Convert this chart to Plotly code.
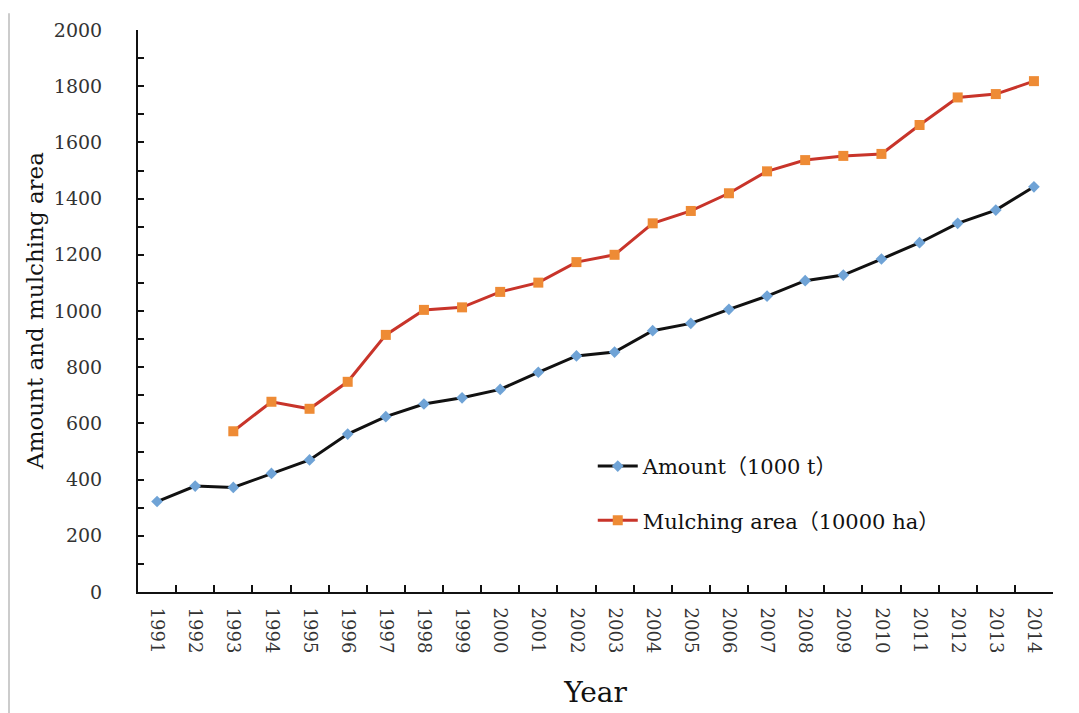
import plotly.graph_objects as go

years = [str(y) for y in range(1991, 2015)]
amount = [322, 377, 372, 422, 470, 562, 624, 669, 691, 721, 782, 840, 854, 930, 956,
          1006, 1053, 1108, 1128, 1185, 1243, 1312, 1359, 1442]
mulching_years = [str(y) for y in range(1993, 2015)]
mulching = [572, 677, 652, 748, 915, 1004, 1013, 1068, 1101, 1174, 1200, 1312, 1356,
            1419, 1497, 1537, 1552, 1559, 1662, 1760, 1772, 1818]

serif = "DejaVu Serif, Noto Sans CJK SC, serif"

fig = go.Figure()
fig.add_trace(go.Scatter(
    x=years, y=amount, mode="lines+markers", name="Amount（1000 t）",
    line=dict(color="#111111", width=3),
    marker=dict(symbol="diamond", size=9, color="#6FA3D6"),
    legendgroup="a",
))
fig.add_trace(go.Scatter(
    x=mulching_years, y=mulching, mode="lines+markers", name="Mulching area（10000 ha）",
    line=dict(color="#C8342A", width=3),
    marker=dict(symbol="square", size=10, color="#EE8B35"),
    legendgroup="b",
))

fig.update_layout(
    width=1079, height=713,
    margin=dict(l=130, r=34, t=22, b=129),
    paper_bgcolor="white", plot_bgcolor="white",
    font=dict(family=serif, color="#222222"),
    legend=dict(
        x=0.497, y=0.26, xanchor="left", yanchor="top",
        font=dict(family=serif, size=21, color="#111111"),
        bgcolor="rgba(0,0,0,0)", tracegroupgap=24, traceorder="grouped",
        itemwidth=40,
    ),
    shapes=[dict(type="line", xref="paper", yref="paper", x0=-0.141, x1=-0.141,
                 y0=-0.25, y1=1.03, line=dict(color="#cccccc", width=2))],
    annotations=[dict(text="Amount and mulching area", xref="paper", yref="paper",
                      x=-0.1126, y=0.5, xanchor="center", yanchor="middle",
                      textangle=-90, showarrow=False,
                      font=dict(family=serif, size=23, color="#111111"))],
)

fig.update_xaxes(
    type="category", categoryorder="array", categoryarray=years,
    range=[-0.5, 23.5], automargin=False,
    showline=True, linecolor="#111111", linewidth=2, mirror=False,
    ticks="inside", ticklen=7, tickwidth=2, tickcolor="#111111",
    tickson="boundaries", tickangle=90, ticklabelstandoff=10,
    tickfont=dict(family=serif, size=18, color="#333333"),
    showgrid=False, zeroline=False,
    title=dict(text="Year", font=dict(family=serif, size=28, color="#111111"), standoff=30),
)
fig.update_yaxes(
    range=[0, 2000], dtick=200, tick0=0, automargin=False,
    showline=True, linecolor="#111111", linewidth=2,
    ticks="inside", ticklen=6, tickwidth=2, tickcolor="#111111",
    minor=dict(dtick=100, ticks="inside", ticklen=6, tickwidth=2, tickcolor="#111111", showgrid=False),
    tickfont=dict(family=serif, size=19, color="#333333"),
    ticklabelstandoff=30,
    showgrid=False, zeroline=False,
)

fig.write_html("out.html")
